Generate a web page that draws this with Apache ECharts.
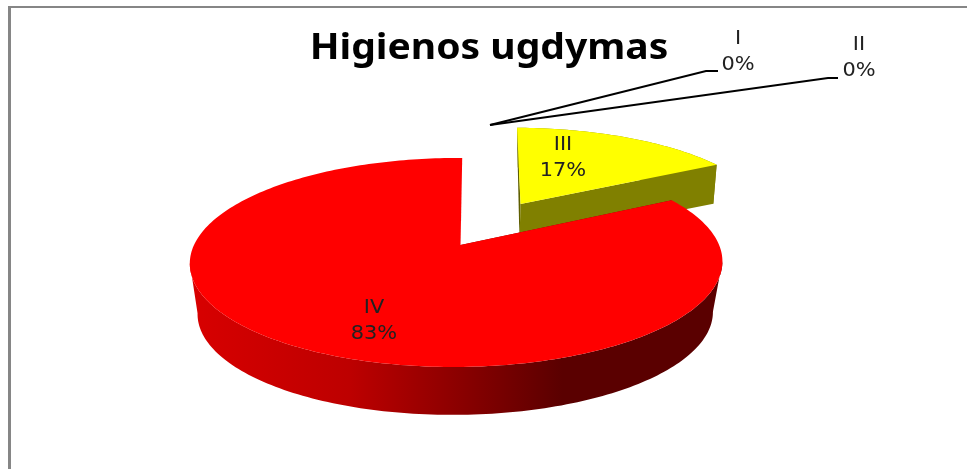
<!DOCTYPE html>
<html>
<head>
<meta charset="utf-8">
<style>html, body { margin: 0; padding: 0; background: #fff; } #chart { width: 967px; height: 469px; }</style>
<script src="https://cdn.jsdelivr.net/npm/echarts@6/dist/echarts.min.js"></script>
</head>
<body>
<div id="chart"></div>
<script>
const categories = ['I', 'II', 'III', 'IV'];
const shares = [0, 0, 17, 83];

const total = shares.reduce((a, b) => a + b, 0);

// where each slice sits on the page (the pie is a perspective view, so top and bottom faces differ)
const topFaces = [
    null,
    null,
    { ax: 520.5, ay: 204, r: 247, s: 89, k: 0.167, m: 0.015, tilt: -4 },
    { ax: 460.5, ay: 245, r: 262.5, s: 101.6, k: 0.167, m: 0.015, tilt: 2 }
];
const bottomFaces = [
    null,
    null,
    { ax: 519.5, ay: 242, r: 243, s: 87, k: 0.167, m: 0.015, tilt: -2 },
    { ax: 459.5, ay: 296, r: 254, s: 99, k: 0.167, m: 0.015, tilt: 2 }
];
const labelPos = [[738, 52], [859, 58], [563, 158], [374, 321]];
const leaders = [
    [[490, 125], [706, 71], [718, 71]],
    [[490, 125], [828, 78], [838, 78]],
    null,
    null
];
const topColors = ['#ff0000', '#ff0000', '#ffff00', '#ff0000'];
const frontColors = ['#808000', '#808000', '#808000', '#5a0000'];
const innerColors = ['#5e5e00', '#5e5e00', '#5e5e00', '#800000'];
const redWall = {
    type: 'linear', global: true, x: 190, y: 0, x2: 722, y2: 0,
    colorStops: [
        { offset: 0, color: '#d80000' },
        { offset: 0.3, color: '#bd0000' },
        { offset: 0.5, color: '#8c0000' },
        { offset: 0.7, color: '#5a0000' },
        { offset: 1, color: '#5a0000' }
    ]
};

// pie angle (clockwise from 12 o'clock) to a page position
function project(f, angle) {
    const x = Math.sin(angle);
    const y = Math.cos(angle);
    const w = 1 + f.k * y + f.m * x;
    return [f.ax + (f.r * x + f.tilt * y) / w, f.ay - f.s * y / w];
}

function arc(f, a0, a1) {
    const pts = [];
    const steps = Math.max(2, Math.ceil((a1 - a0) / 0.02));
    for (let i = 0; i <= steps; i++) {
        pts.push(project(f, a0 + (a1 - a0) * i / steps));
    }
    return pts;
}

// index of the rightmost / leftmost rim point, the band folds over there
function extreme(pts, sign) {
    let best = 0;
    pts.forEach((p, i) => { if (sign * p[0] > sign * pts[best][0]) best = i; });
    return best;
}

function renderSlice(params, api) {
    const i = params.dataIndex;
    const value = api.value(0);
    const before = shares.slice(0, i).reduce((a, b) => a + b, 0);
    const a0 = before / total * Math.PI * 2;
    const a1 = (before + value) / total * Math.PI * 2;
    const children = [];

    if (value > 0) {
        const top = topFaces[i];
        const bot = bottomFaces[i];
        const topArc = arc(top, a0, a1);
        const botArc = arc(bot, a0, a1);
        const topApex = [top.ax, top.ay];
        const botApex = [bot.ax, bot.ay];
        // inner wall at the start angle
        children.push({
            type: 'polygon',
            shape: { points: [topApex, topArc[0], botArc[0], botApex] },
            style: { fill: innerColors[i] }
        });
        // outer curved wall, only the part between the folds faces us
        const from = extreme(topArc, 1);
        const to = extreme(topArc, -1);
        const fromB = extreme(botArc, 1);
        const toB = extreme(botArc, -1);
        children.push({
            type: 'polygon',
            shape: {
                points: from < to
                    ? topArc.slice(from, to + 1).concat(botArc.slice(fromB, toB + 1).reverse())
                    : topArc.concat(botArc.slice().reverse())
            },
            style: { fill: i === 3 ? redWall : frontColors[i] }
        });
        // wall at the end angle, this is the olive face of the yellow slice
        children.push({
            type: 'polygon',
            shape: { points: [topApex, topArc[topArc.length - 1], botArc[botArc.length - 1], botApex] },
            style: { fill: frontColors[i] }
        });
        children.push({
            type: 'polygon',
            shape: { points: [topApex].concat(topArc) },
            style: { fill: topColors[i] }
        });
    }

    if (leaders[i]) {
        children.push({
            type: 'polyline',
            shape: { points: leaders[i] },
            style: { stroke: '#000', lineWidth: 2, fill: null }
        });
    }

    children.push({
        type: 'text',
        x: labelPos[i][0],
        y: labelPos[i][1],
        scaleX: 1.1,
        z2: 10,
        style: {
            text: categories[i] + '\n' + Math.round(value / total * 100) + '%',
            font: '19px "DejaVu Sans"',
            lineHeight: 26,
            fill: '#222',
            align: 'center',
            verticalAlign: 'middle'
        }
    });

    return { type: 'group', children: children };
}

const chart = echarts.init(document.getElementById('chart'), null, { renderer: 'canvas' });
chart.setOption({
    animation: false,
    backgroundColor: '#fff',
    graphic: [
        { type: 'rect', shape: { x: 8, y: 6, width: 3, height: 463 }, style: { fill: '#868686' } },
        { type: 'rect', shape: { x: 8, y: 6, width: 959, height: 2 }, style: { fill: '#868686' } },
        {
            type: 'text',
            x: 489,
            y: 49,
            scaleX: 1.115,
            style: {
                text: 'Higienos ugdymas',
                font: 'bold 35px "Noto Sans"',
                fill: '#000',
                align: 'center',
                verticalAlign: 'middle'
            }
        }
    ],
    series: [{
        type: 'custom',
        coordinateSystem: 'none',
        data: shares.map((v, i) => ({ name: categories[i], value: [v] })),
        renderItem: renderSlice
    }]
});
</script>
</body>
</html>
